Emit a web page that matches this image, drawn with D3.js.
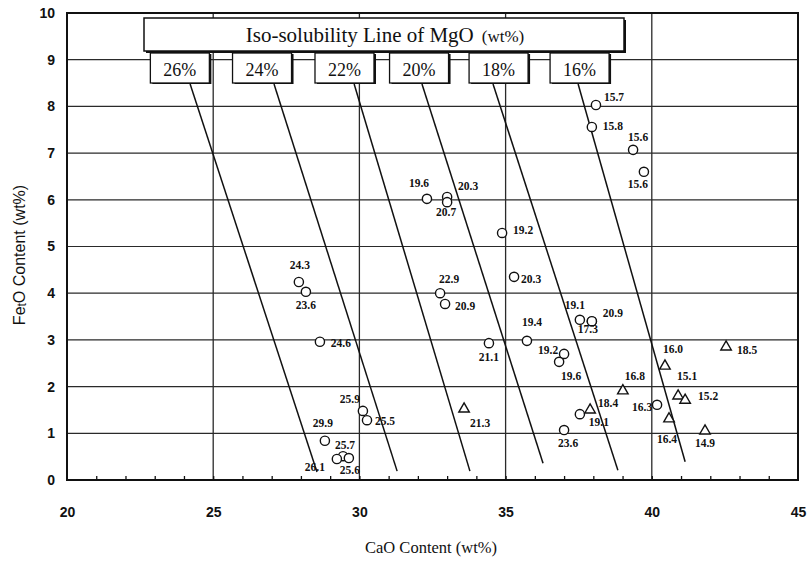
<!DOCTYPE html>
<html>
<head>
<meta charset="utf-8">
<script src="https://cdn.jsdelivr.net/npm/d3@7"></script>
<style>
  html, body { margin: 0; padding: 0; background: #fff; }
  svg { display: block; }
</style>
</head>
<body>
<svg id="chart" width="811" height="561"></svg>
<script>
// ---------------- data ----------------
const xTicks = [20, 25, 30, 35, 40, 45];
const yTicks = [0, 1, 2, 3, 4, 5, 6, 7, 8, 9, 10];
const xMinorTicks = d3.range(21, 45);
const xGrid = [25, 30, 35, 40];
const yGrid = [1, 2, 3, 4, 5, 6, 7, 8, 9];

// iso-solubility lines of MgO (wt%)
const isoLabels = ["26%", "24%", "22%", "20%", "18%", "16%"];
const isoTopCaO = [24.21, 27.08, 29.82, 32.14, 34.57, 37.48];
const isoTopFeO = [8.48, 8.48, 8.48, 8.48, 8.48, 8.48];
const isoBottomCaO = [28.55, 31.29, 33.78, 36.28, 38.84, 41.14];
const isoBottomFeO = [0.17, 0.19, 0.19, 0.36, 0.21, 0.39];
const isoBoxCaO = [23.86, 26.67, 29.49, 32.04, 34.76, 37.53];

// measured points: CaO, FetO, MgO label, marker shape
const pointCaO = [38.09, 37.95, 39.36, 39.73, 32.31, 33.00, 33.00, 34.88, 27.93, 28.17,
                  32.76, 32.93, 35.29, 28.65, 34.43, 35.73, 37.54, 37.95, 37.95, 37.00,
                  36.83, 39.01, 37.89, 37.54, 37.00, 40.18, 40.45, 42.54, 40.90, 41.14,
                  40.59, 41.82, 33.58, 30.12, 30.26, 28.82, 29.44, 29.23, 29.64];
const pointFeO = [8.03, 7.56, 7.07, 6.60, 6.02, 6.06, 5.95, 5.29, 4.24, 4.03,
                  4.00, 3.77, 4.35, 2.96, 2.93, 2.98, 3.43, 3.40, 3.40, 2.70,
                  2.53, 1.91, 1.50, 1.41, 1.07, 1.61, 2.44, 2.85, 1.80, 1.71,
                  1.31, 1.05, 1.52, 1.48, 1.28, 0.84, 0.51, 0.45, 0.47];
const pointMgO = ["15.7", "15.8", "15.6", "15.6", "19.6", "20.3", "20.7", "19.2", "24.3", "23.6",
                  "22.9", "20.9", "20.3", "24.6", "21.1", "19.4", "19.1", "20.9", "17.3", "19.2",
                  "19.6", "16.8", "18.4", "19.1", "23.6", "16.3", "16.0", "18.5", "15.1", "15.2",
                  "16.4", "14.9", "21.3", "25.9", "25.5", "29.9", "25.7", "26.1", "25.6"];
const pointShape = ["o","o","o","o","o","o","o","o","o","o",
                    "o","o","o","o","o","o","o","o","o","o",
                    "o","t","t","o","o","o","t","t","t","t",
                    "t","t","t","o","o","o","o","o","o"];

// label offsets (layout, px)
const labelDx = [18, 21, 5, -6, -8, 21, -1, 21, 1, 0,
                 9, 20, 17, 21, 0, 5, -5, 21, -4, -16,
                 12, 12, 18, 19, 4, -15, 8, 21, 9, 23,
                 -2, 0, 16, -13, 18, -2, 2, -22, 1];
const labelDy = [-4, 3, -9, 16, -12, -7, 14, 1, -13, 17,
                 -10, 6, 6, 5, 18, -15, -11, -4, 12, 0,
                 18, -11, -3, 12, 17, 6, -13, 7, -16, 0,
                 24, 16, 18, -8, 5, -14, -7, 12, 16];

// ---------------- drawing ----------------
const svg = d3.select("#chart");
const x = d3.scaleLinear().domain([20, 45]).range([67, 798]);
const y = d3.scaleLinear().domain([0, 10]).range([480, 13]);
const ink = "#111";

// gridlines
svg.append("g").selectAll("line").data(yGrid).join("line")
  .attr("x1", x(20)).attr("x2", x(45))
  .attr("y1", d => y(d)).attr("y2", d => y(d))
  .attr("stroke", "#2a2a2a").attr("stroke-width", 1.2);
svg.append("g").selectAll("line").data(xGrid).join("line")
  .attr("x1", d => x(d)).attr("x2", d => x(d))
  .attr("y1", y(0)).attr("y2", y(10))
  .attr("stroke", "#2a2a2a").attr("stroke-width", 1.3);

// minor x ticks (inside)
const minor = svg.append("g").attr("transform", `translate(0,${y(0)})`)
  .call(d3.axisBottom(x).tickValues(xMinorTicks).tickSize(-4).tickFormat(""));
minor.select(".domain").remove();
minor.selectAll(".tick line").attr("stroke", ink).attr("stroke-width", 1.3);

// axes labels
const xAxis = svg.append("g").attr("transform", `translate(0,${y(0)})`)
  .call(d3.axisBottom(x).tickValues(xTicks).tickSize(0).tickPadding(27).tickFormat(d3.format("d")));
xAxis.select(".domain").remove();
xAxis.selectAll("text").attr("font-family", "'Liberation Sans', Arial, sans-serif")
  .attr("font-weight", "bold").attr("font-size", 14).attr("fill", ink);

const yAxis = svg.append("g").attr("transform", `translate(${x(20)},0)`)
  .call(d3.axisLeft(y).tickValues(yTicks).tickSize(0).tickPadding(12).tickFormat(d3.format("d")));
yAxis.select(".domain").remove();
yAxis.selectAll("text").attr("font-family", "'Liberation Sans', Arial, sans-serif")
  .attr("font-weight", "bold").attr("font-size", 14).attr("fill", ink);

// frame
svg.append("rect")
  .attr("x", x(20)).attr("y", y(10))
  .attr("width", x(45) - x(20)).attr("height", y(0) - y(10))
  .attr("fill", "none").attr("stroke", ink).attr("stroke-width", 2);

// iso-solubility lines
svg.append("g").selectAll("line").data(isoLabels).join("line")
  .attr("x1", (d, i) => x(isoTopCaO[i])).attr("y1", (d, i) => y(isoTopFeO[i]))
  .attr("x2", (d, i) => x(isoBottomCaO[i])).attr("y2", (d, i) => y(isoBottomFeO[i]))
  .attr("stroke", ink).attr("stroke-width", 1.5);

// header box
const serif = "'Liberation Serif', 'Times New Roman', serif";
svg.append("rect").attr("x", 146).attr("y", 20).attr("width", 480).attr("height", 33).attr("fill", ink);
svg.append("rect").attr("x", 144).attr("y", 18).attr("width", 480).attr("height", 33)
  .attr("fill", "#fff").attr("stroke", ink).attr("stroke-width", 1.5);
const head = svg.append("text").attr("x", 385).attr("y", 42).attr("text-anchor", "middle")
  .attr("font-family", serif).attr("font-size", 21).attr("fill", ink);
head.append("tspan").text("Iso-solubility Line of MgO");
head.append("tspan").attr("dx", 8).attr("font-size", 17).text("(wt%)");

// label boxes
const bw = 59, bh = 30, btop = 53;
const boxes = svg.append("g").selectAll("g").data(isoLabels).join("g");
boxes.append("rect")
  .attr("x", (d, i) => x(isoBoxCaO[i]) - bw / 2 + 2).attr("y", btop + 1)
  .attr("width", bw).attr("height", bh).attr("fill", ink);
boxes.append("rect")
  .attr("x", (d, i) => x(isoBoxCaO[i]) - bw / 2).attr("y", btop)
  .attr("width", bw).attr("height", bh)
  .attr("fill", "#fff").attr("stroke", ink).attr("stroke-width", 1.3);
boxes.append("text")
  .attr("x", (d, i) => x(isoBoxCaO[i])).attr("y", btop + 23)
  .attr("text-anchor", "middle").attr("font-family", serif).attr("font-size", 18)
  .attr("fill", ink).text(d => d);

// points
const idx = d3.range(pointCaO.length);
const pts = svg.append("g");
pts.selectAll("circle").data(idx.filter(i => pointShape[i] === "o")).join("circle")
  .attr("cx", i => x(pointCaO[i])).attr("cy", i => y(pointFeO[i]))
  .attr("r", 4.6).attr("fill", "#fff").attr("stroke", ink).attr("stroke-width", 1.4);
const tri = d3.symbol().type(d3.symbolTriangle).size(48);
pts.selectAll("path").data(idx.filter(i => pointShape[i] === "t")).join("path")
  .attr("d", tri)
  .attr("transform", i => `translate(${x(pointCaO[i])},${y(pointFeO[i])})`)
  .attr("fill", "#fff").attr("stroke", ink).attr("stroke-width", 1.4);

svg.append("g").selectAll("text").data(idx).join("text")
  .attr("x", i => x(pointCaO[i]) + labelDx[i])
  .attr("y", i => y(pointFeO[i]) + labelDy[i])
  .attr("text-anchor", "middle")
  .attr("font-family", serif).attr("font-weight", "bold").attr("font-size", 11.5)
  .attr("fill", ink).text(i => pointMgO[i]);

// axis titles
svg.append("text").attr("x", 431).attr("y", 553).attr("text-anchor", "middle")
  .attr("font-family", serif).attr("font-size", 16.5).attr("fill", ink)
  .text("CaO Content  (wt%)");

const yt = svg.append("text").attr("transform", "translate(25,255) rotate(-90)")
  .attr("text-anchor", "middle")
  .attr("font-family", "'Liberation Sans', Arial, sans-serif").attr("font-size", 16).attr("fill", ink);
yt.append("tspan").text("Fe");
yt.append("tspan").attr("font-size", 12).attr("dy", 1).text("t");
yt.append("tspan").attr("dy", -1).text("O Content  (wt%)");
</script>
</body>
</html>
